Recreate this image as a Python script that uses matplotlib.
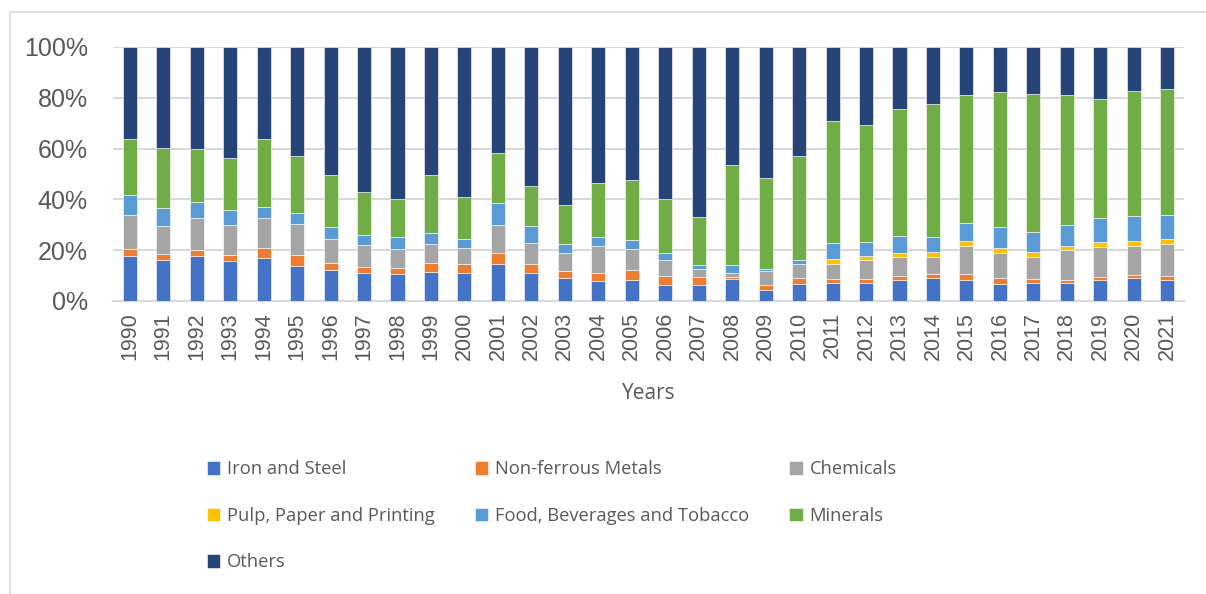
import matplotlib.pyplot as plt
import matplotlib.patches as patches
import numpy as np
from matplotlib.ticker import PercentFormatter

years = [str(y) for y in range(1990, 2022)]

iron_steel = [17.7, 16.1, 17.7, 15.7, 16.9, 13.8, 12.2, 11.0, 10.6, 11.4,
              10.9, 14.6, 10.9, 9.1, 7.7, 8.4, 6.2, 6.2, 8.7, 4.2,
              6.7, 7.1, 7.0, 8.4, 9.1, 8.4, 6.7, 7.0, 7.0, 8.3,
              9.1, 8.4]
non_ferrous = [2.8, 2.4, 2.4, 2.4, 4.0, 4.3, 2.8, 2.3, 2.4, 3.6,
               3.7, 4.2, 3.7, 2.8, 3.2, 3.7, 3.6, 3.1, 0.6, 2.0,
               2.2, 1.4, 1.7, 1.6, 1.7, 2.2, 2.4, 1.7, 1.3, 1.1,
               1.1, 1.4]
chemicals = [13.5, 11.2, 12.7, 12.0, 11.9, 12.3, 9.5, 8.9, 7.3, 7.6,
             6.4, 11.3, 8.4, 6.9, 10.9, 8.2, 6.3, 3.2, 1.9, 5.5,
             5.8, 6.2, 7.6, 7.3, 6.7, 11.2, 9.9, 8.8, 11.8, 11.9,
             11.5, 12.6]
pulp_paper = [0, 0, 0, 0, 0, 0, 0, 0, 0, 0,
              0, 0, 0, 0, 0, 0, 0, 0, 0, 0,
              0, 1.7, 1.3, 1.6, 1.7, 1.7, 1.9, 1.8, 1.6, 1.8,
              1.8, 1.9]
food_bev = [7.7, 7.0, 6.2, 5.6, 4.2, 4.2, 4.6, 3.9, 4.8, 4.3,
            3.5, 8.6, 6.7, 3.8, 3.5, 3.6, 2.9, 1.7, 2.8, 0.8,
            1.4, 6.3, 5.8, 6.8, 6.1, 7.3, 8.2, 8.0, 8.4, 9.6,
            10.1, 9.7]
minerals = [22.2, 23.4, 20.7, 20.5, 26.6, 22.4, 20.4, 16.9, 15.1, 22.8,
            16.3, 19.4, 15.7, 15.1, 21.0, 23.6, 21.2, 19.0, 39.4, 35.9,
            41.1, 48.3, 45.8, 49.8, 52.1, 50.3, 53.1, 54.3, 51.0, 46.8,
            49.2, 49.3]
others = [36.1, 39.9, 40.3, 43.8, 36.4, 43.0, 50.5, 57.0, 59.8, 50.3,
          59.2, 41.9, 54.6, 62.3, 53.7, 52.5, 59.8, 66.8, 46.6, 51.6,
          42.8, 29.0, 30.8, 24.5, 22.6, 18.9, 17.8, 18.4, 18.9, 20.5,
          17.2, 16.7]

series = [
    ("Iron and Steel", iron_steel, "#4472C4"),
    ("Non-ferrous Metals", non_ferrous, "#ED7D31"),
    ("Chemicals", chemicals, "#A5A5A5"),
    ("Pulp, Paper and Printing", pulp_paper, "#FFC000"),
    ("Food, Beverages and Tobacco", food_bev, "#5B9BD5"),
    ("Minerals", minerals, "#70AD47"),
    ("Others", others, "#264478"),
]

W, H = 1206, 594
fig = plt.figure(figsize=(W / 100, H / 100), dpi=100)
ax = fig.add_axes([113 / W, 1 - 301 / H, (1184 - 113) / W, (301 - 47) / H])

# outer chart border like the spreadsheet frame
fig.patches.append(patches.Rectangle((10 / W, -0.05), 1.2, 1 - 12 / H + 0.05,
                                     transform=fig.transFigure, fill=False,
                                     edgecolor="#D9D9D9", linewidth=1.2))

# normalise each year to 100%
totals = np.sum([np.array(v) for _, v, _ in series], axis=0)
x = np.arange(len(years))
bottom = np.zeros(len(years))
handles = {}
for name, vals, color in series:
    share = np.array(vals) / totals * 100
    handles[name] = ax.bar(x, share, width=0.42, bottom=bottom, color=color,
                           edgecolor="white", linewidth=0.4, label=name,
                           zorder=3)
    bottom += share

text_color = "#595959"
ax.set_xlim(-0.5, len(years) - 0.5)
ax.set_ylim(0, 100)
ax.set_yticks(np.arange(0, 101, 20))
ax.yaxis.set_major_formatter(PercentFormatter(decimals=0))
ax.set_xticks(x)
ax.set_xticklabels(years, rotation=90, fontsize=15.5, color=text_color,
                   family="Liberation Sans")
for lbl in ax.get_yticklabels():
    lbl.set_family("Liberation Sans")
ax.tick_params(axis="y", labelsize=18, colors=text_color, length=0, pad=18)
ax.tick_params(axis="x", length=0, pad=8)
ax.grid(axis="y", color="#D9D9D9", linewidth=1.5, zorder=0)
for side in ["top", "right", "left"]:
    ax.spines[side].set_visible(False)
ax.spines["bottom"].set_color("#D9D9D9")
ax.spines["bottom"].set_linewidth(1.5)

ax.set_xlabel("Years", fontsize=15, color=text_color, family="Open Sans",
              labelpad=16)

# legend is filled column by column, so order the entries to read row-wise
order = ["Iron and Steel", "Pulp, Paper and Printing", "Others",
         "Non-ferrous Metals", "Food, Beverages and Tobacco",
         "Chemicals", "Minerals"]
leg = fig.legend(handles=[handles[n] for n in order], labels=order,
                 loc="upper left", bbox_to_anchor=(190 / W, 1 - 444 / H),
                 ncol=3, frameon=False,
                 prop={"family": "Open Sans", "size": 13.2},
                 handlelength=0.75, handleheight=0.75, handletextpad=0.35,
                 columnspacing=2.2, labelspacing=1.55)
for t in leg.get_texts():
    t.set_color(text_color)

fig.savefig("out.png", dpi=100)
